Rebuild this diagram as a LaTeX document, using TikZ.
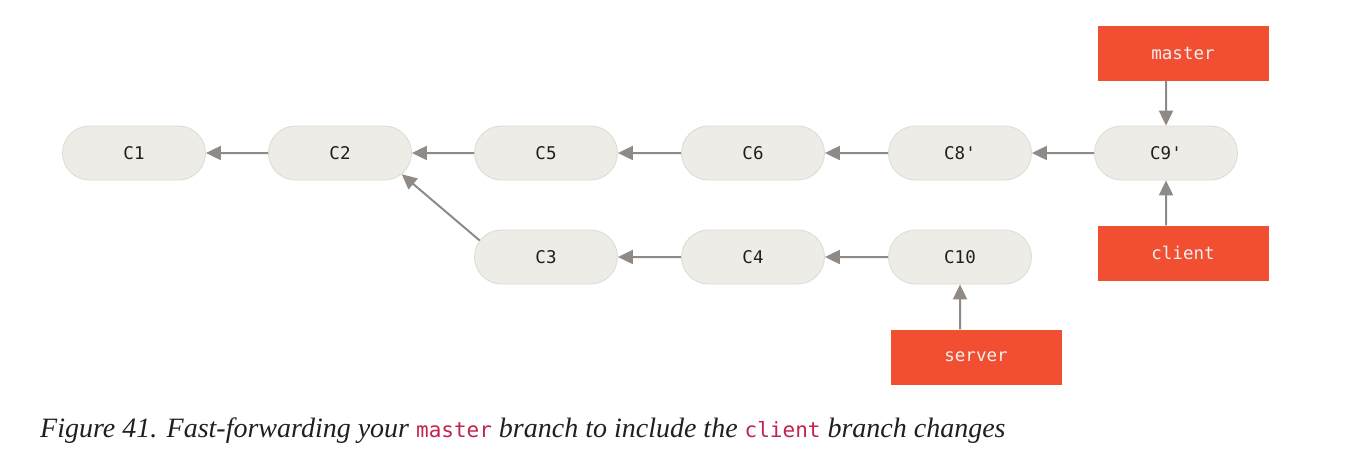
\documentclass[tikz,border=0pt]{standalone}
\usepackage{fontspec}
\setmainfont{Liberation Serif}
\setmonofont{DejaVu Sans Mono}
\usetikzlibrary{arrows.meta,shapes.misc}

\definecolor{commitfill}{HTML}{EDECE6}
\definecolor{commitline}{HTML}{DCDAD2}
\definecolor{branchfill}{HTML}{F14E32}
\definecolor{arrowgray}{HTML}{8F8A85}
\definecolor{codered}{HTML}{C0244F}

\tikzset{
commit/.style={rounded rectangle, fill=commitfill, draw=commitline,
  line width=0.8pt, minimum width=143pt, minimum height=54pt,
  inner sep=0pt, font=\ttfamily\fontsize{17.5}{20}\selectfont, text=black!88},
branch/.style={rectangle, fill=branchfill, minimum width=171pt,
  minimum height=55pt, inner sep=0pt,
  font=\ttfamily\fontsize{17.5}{20}\selectfont, text=white!94!black},
parent/.style={draw=arrowgray, line width=2pt,
  -{Triangle[length=15pt,width=14pt]}},
}

\begin{document}
\begin{tikzpicture}[x=1pt,y=-1pt]
\useasboundingbox (0,0) rectangle (1360,448);

% commits
\node[commit] (c1) at (134,153) {C1};
\node[commit] (c2) at (340,153) {C2};
\node[commit] (c5) at (546,153) {C5};
\node[commit] (c6) at (753,153) {C6};
\node[commit] (c8) at (960,153) {C8'};
\node[commit] (c9) at (1166,153) {C9'};
\node[commit] (c3) at (546,257) {C3};
\node[commit] (c4) at (753,257) {C4};
\node[commit] (c10) at (960,257) {C10};

% branches
\node[branch] (master) at (1183,53) {master};
\node[branch] (client) at (1183,253) {client};
\node[branch] (server) at (976,357) {server};

\draw[parent] (c2) -- (c1);
\draw[parent] (c5) -- (c2);
\draw[parent] (c6) -- (c5);
\draw[parent] (c8) -- (c6);
\draw[parent] (c9) -- (c8);
\draw[parent] (c3.166) -- (c2.-19);
\draw[parent] (c4) -- (c3);
\draw[parent] (c10) -- (c4);
\draw[parent] (master.south -| c9) -- (c9);
\draw[parent] (client.north -| c9) -- (c9);
\draw[parent] (server.north -| c10) -- (c10);

% caption
\node[anchor=base west, inner sep=0pt, text=black!88,
  font=\fontsize{28}{32}\selectfont\itshape] (caption) at (40,437)
  {Figure 41. Fast-forwarding your
  {\upshape\ttfamily\fontsize{21}{24}\selectfont\color{codered}master}
  branch to include the
  {\upshape\ttfamily\fontsize{21}{24}\selectfont\color{codered}client}
  branch changes};
\end{tikzpicture}
\end{document}
